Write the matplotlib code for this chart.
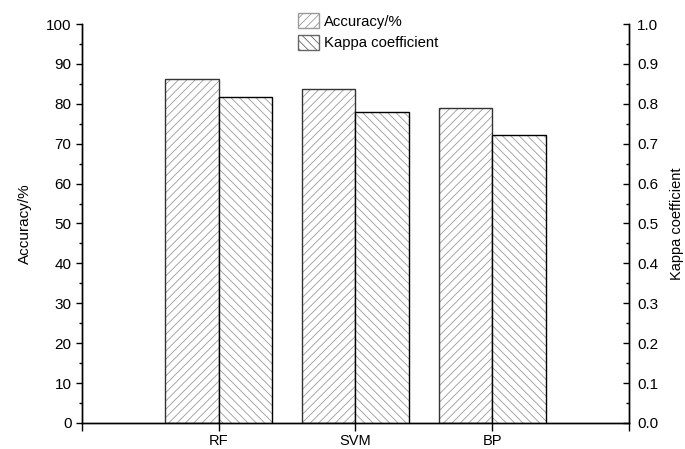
import numpy as np
import matplotlib.pyplot as plt
from matplotlib.patches import Patch
from matplotlib.ticker import MultipleLocator, FixedLocator

plt.rcParams['font.family'] = ['Liberation Sans', 'DejaVu Sans']
plt.rcParams['font.size'] = 11
plt.rcParams['hatch.linewidth'] = 0.6

methods = ["RF", "SVM", "BP"]
accuracy = [86.2, 83.6, 79.0]
kappa = [0.816, 0.779, 0.723]

x = np.arange(1, len(methods) + 1)
w = 0.39
hatch_col = "#9a9a9a"

fig = plt.figure(figsize=(6.85, 4.49), dpi=100)
ax = fig.add_axes([0.1197, 0.058, 0.7985, 0.8885])
ax2 = ax.twinx()

# accuracy bars on left axis
ax.bar(x - w / 2, accuracy, w, facecolor="white", edgecolor=hatch_col,
       hatch="////", linewidth=0)
ax.bar(x - w / 2, accuracy, w, facecolor="none", edgecolor="#333333", linewidth=1.0)
# kappa bars on right axis
ax2.bar(x + w / 2, kappa, w, facecolor="white", edgecolor=hatch_col,
        hatch="\\\\\\\\", linewidth=0)
ax2.bar(x + w / 2, kappa, w, facecolor="none", edgecolor="black", linewidth=1.0)

ax.set_xlim(0, 4)
ax.set_ylim(0, 100)
ax2.set_ylim(0, 1.0)

ax.xaxis.set_major_locator(FixedLocator([0, 1, 2, 3, 4]))
ax.set_xticklabels(["", "RF", "SVM", "BP", ""])
ax.yaxis.set_major_locator(MultipleLocator(10))
ax.yaxis.set_minor_locator(MultipleLocator(5))
ax2.yaxis.set_major_locator(MultipleLocator(0.1))
ax2.yaxis.set_minor_locator(MultipleLocator(0.05))
ax2.yaxis.set_major_formatter(plt.FuncFormatter(lambda v, p: f"{v:.1f}"))

for a in (ax, ax2):
    a.spines['top'].set_visible(False)
    for s in a.spines.values():
        s.set_linewidth(1.0)
ax.tick_params(axis='x', direction='out', length=6, width=1.0, pad=2, labelsize=10.5)
ax.tick_params(axis='y', which='major', direction='out', length=4.5, width=1.0, pad=3)
ax.tick_params(axis='y', which='minor', direction='out', length=2.5, width=1.0)
ax2.tick_params(axis='y', which='major', direction='in', length=4.5, width=1.0, pad=6)
ax2.tick_params(axis='y', which='minor', direction='in', length=2.5, width=1.0)

ax.set_ylabel("Accuracy/%", labelpad=10)
ax2.set_ylabel("Kappa coefficient", rotation=90, labelpad=8, fontsize=10.5)

handles = [Patch(facecolor="white", edgecolor=hatch_col, hatch="////", linewidth=1.0),
           Patch(facecolor="white", edgecolor="#666666", hatch="\\\\\\\\", linewidth=1.0)]
fig.legend(handles, ["Accuracy/%", "Kappa coefficient"], loc="upper left",
           bbox_to_anchor=(0.416, 1.0), frameon=False, handlelength=1.4,
           handleheight=1.1, handletextpad=0.3, labelspacing=0.45, fontsize=10.7)

fig.savefig("out.png", dpi=100)
